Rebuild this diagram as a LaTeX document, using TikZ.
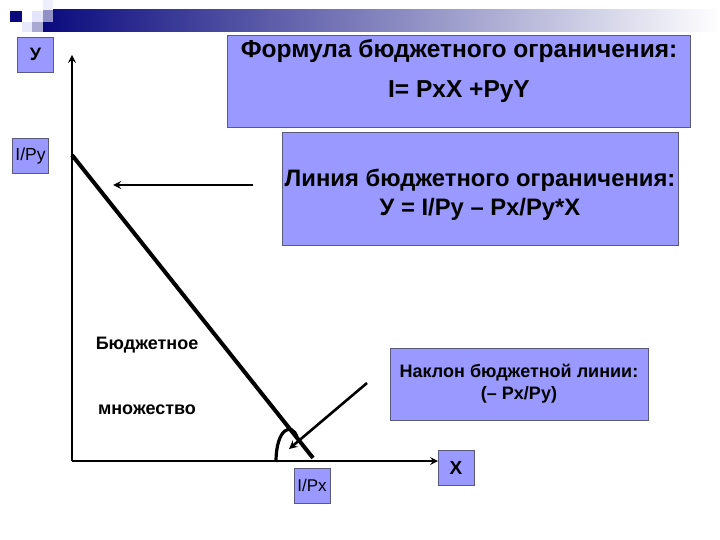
\documentclass[tikz,border=0pt]{standalone}
\usepackage{fontspec}
\setmainfont{Liberation Sans}
\usetikzlibrary{positioning}
\definecolor{boxblue}{HTML}{9999FF}
\definecolor{boxline}{HTML}{5A5A7E}
\definecolor{navy}{HTML}{0A0A7E}
\begin{document}
\begin{tikzpicture}[
        x=1pt, y=-1pt,
        infobox/.style={
            rectangle,
            draw=boxline,
            fill=boxblue,
            line width=0.9pt,
            align=center,
            inner sep=0pt,
            font=\bfseries
        },
        tag/.style={
            rectangle,
            draw=boxline,
            fill=boxblue,
            line width=0.9pt,
            minimum width=36pt,
            minimum height=35pt,
            inner sep=0pt
        },
        axis/.style={
            ->,
            line width=2.4pt,
            >=stealth
        },
        pointer/.style={
            ->,
            line width=2.6pt,
            >=stealth
        },
        setlabel/.style={
            font=\fontsize{18}{20}\selectfont\bfseries
        }
    ]

        \useasboundingbox (0,0) rectangle (720,540);

        % template decoration
        \shade[left color=navy, right color=white] (43,10) rectangle (720,32);
        \fill[navy] (10,11) rectangle (22,22);
        \fill[gray!25!blue!12] (32,11) rectangle (43,22);
        \fill[gray!30!blue!8] (43,0) rectangle (53,10);
        \fill[navy!45] (43,10) rectangle (53,22);
        \fill[gray!25!blue!10] (22,22) rectangle (32,32);
        \fill[navy!35] (32,22) rectangle (43,32);

        % text boxes
        \node[infobox, minimum width=463pt, minimum height=92pt, text depth=24pt,
              font=\fontsize{24.5}{40}\selectfont\bfseries] (formula) at (459,81)
            {Формула бюджетного ограничения:\\I= PxX +PyY};

        \node[infobox, minimum width=396pt, minimum height=113pt, text height=58pt,
              font=\fontsize{23.8}{29}\selectfont\bfseries] (lineeq) at (480,188.5)
            {Линия бюджетного ограничения:\\У = I/Py – Px/Py*X};

        \node[infobox, minimum width=258pt, minimum height=72pt,
              font=\fontsize{18}{22}\selectfont\bfseries] (slope) at (519,384)
            {Наклон бюджетной линии:\\(– Px/Py)};

        % axis tags
        \node[tag, font=\fontsize{18}{20}\selectfont\bfseries] (ytag) at (35.5,54.5) {У};
        \node[tag, font=\fontsize{17.5}{20}\selectfont] (iytag) at (30.5,155.5) {I/Py};
        \node[tag, font=\fontsize{19}{20}\selectfont\bfseries] (xtag) at (456,468) {X};
        \node[tag, font=\fontsize{17}{20}\selectfont] (ixtag) at (312,485.5) {I/Px};

        \node[setlabel] (settop) at (147,345) {Бюджетное};
        \node[setlabel] (setbot) at (147,410) {множество};

        % axes
        \coordinate (origin) at (72,461);
        \coordinate (ytop) at (72,55);
        \coordinate (xend) at (438,461);
        \draw[axis] (origin) -- (ytop);
        \draw[axis] (origin) -- (xend);

        % budget line
        \coordinate (bstart) at (72,155);
        \coordinate (bend) at (313,458);
        \draw[line width=4pt] (bstart) -- (bend);

        \coordinate (lfrom) at (253,185);
        \coordinate (lto) at (113,185);
        \draw[pointer] (lfrom) -- (lto);

        \coordinate (sfrom) at (367,383);
        \coordinate (sto) at (289,449);
        \draw[pointer] (sfrom) -- (sto);

        % angle mark
        \draw[line width=3.2pt] (276,462) .. controls (276,428) and (292,422) .. (297,437);

    \end{tikzpicture}
\end{document}
